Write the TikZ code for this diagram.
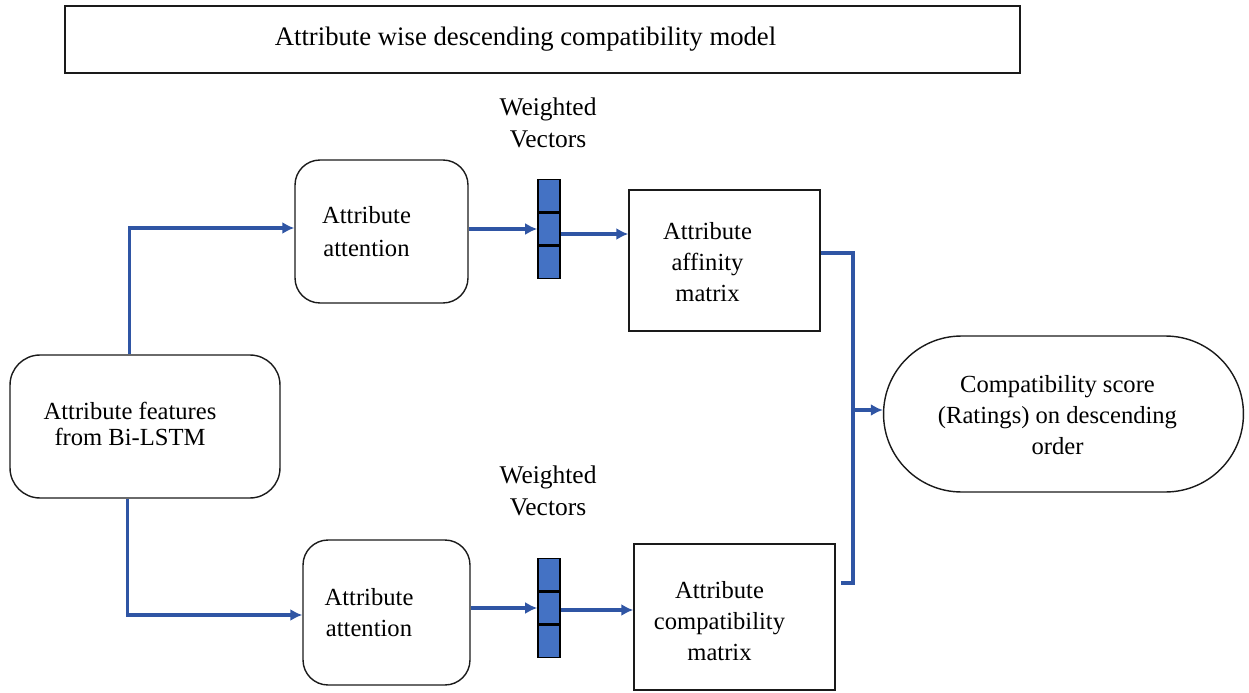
\documentclass[tikz,border=0pt]{standalone}
\usepackage{fontspec}
\setmainfont{Liberation Serif}
\usepackage{xcolor}
\usetikzlibrary{arrows.meta,positioning,calc,shapes.misc}
\definecolor{LinkBlue}{HTML}{2F55A4}
\definecolor{CellBlue}{HTML}{4472C4}
\definecolor{Ink}{HTML}{1A1A1A}
\tikzset{
  plainbox/.style={draw=Ink,line width=0.8pt,align=center,inner sep=2pt,
              font=\fontsize{14}{17.5}\selectfont},
  roundbox/.style={plainbox,rounded corners=0.5cm},
  termbox/.style={plainbox,rounded rectangle,rounded rectangle arc length=180},
  boxtext/.style={align=center,inner sep=2pt,font=\fontsize{14}{17.5}\selectfont},
  cell/.style={draw=black,line width=0.9pt,fill=CellBlue,minimum width=0.44cm,
              minimum height=0.64cm,inner sep=0pt},
  flow/.style={-{Latex[length=2.4mm,width=2.4mm]},line width=1.9pt,draw=LinkBlue},
  link/.style={line width=1.9pt,draw=LinkBlue},
  note/.style={font=\fontsize{14.5}{18.5}\selectfont,align=center}
}

\begin{document}
\begin{tikzpicture}[x=0.02cm,y=-0.02cm]
  \useasboundingbox (0,0) rectangle (1249,693);
  \node[plainbox,minimum width=19.1cm,minimum height=1.34cm] (title) at (542.5,39.5) {};
  \node[boxtext,font=\fontsize{15.2}{18}\selectfont] at ([xshift=-0.34cm]title.center)
    {Attribute wise descending compatibility model};

  \node[roundbox,minimum width=5.4cm,minimum height=2.86cm,rounded corners=0.6cm] (lstm) at (145,426.5) {};
  \node[boxtext,font=\fontsize{14}{14.8}\selectfont] at ([xshift=-0.3cm,yshift=0.05cm]lstm.center)
    {Attribute features\\from Bi-LSTM};
  \node[roundbox,minimum width=3.46cm,minimum height=2.86cm] (att1) at (381.5,231.5) {};
  \node[roundbox,minimum width=3.34cm,minimum height=2.9cm] (att2) at (386.5,612.5) {};
  \node[boxtext,font=\fontsize{14}{19}\selectfont] at ([xshift=-0.3cm]att1.center) {Attribute\\attention};
  \node[boxtext] at ([xshift=-0.35cm]att2.center) {Attribute\\attention};

  % weighted vectors
  \node[cell] (v1b) at (549,229) {};
  \node[cell,above=0pt of v1b] (v1a) {};
  \node[cell,below=0pt of v1b] (v1c) {};
  \node[cell] (v2b) at (549,608) {};
  \node[cell,above=0pt of v2b] (v2a) {};
  \node[cell,below=0pt of v2b] (v2c) {};
  \node[note] (w1) at (548,123) {Weighted\\Vectors};
  \node[note] (w2) at (548,491) {Weighted\\Vectors};

  \node[plainbox,minimum width=3.82cm,minimum height=2.82cm] (mat1) at (724.5,260.5) {};
  \node[plainbox,minimum width=4.02cm,minimum height=2.92cm] (mat2) at (734.5,617) {};
  \node[boxtext] at ([xshift=-0.34cm,yshift=-0.03cm]mat1.center) {Attribute\\affinity\\matrix};
  \node[boxtext] at ([xshift=-0.3cm,yshift=-0.08cm]mat2.center) {Attribute\\compatibility\\matrix};

  \node[termbox,minimum width=7.34cm,minimum height=3.12cm] (score) at (1063.5,414) {};
  \node[boxtext] at ([xshift=-0.12cm,yshift=-0.02cm]score.center)
    {Compatibility score\\(Ratings) on descending\\order};

  \draw[flow] ([xshift=2.4cm]lstm.north west) |- ([yshift=0.07cm]att1.west);
  \draw[flow] ([xshift=2.36cm]lstm.south west) |- ([yshift=-0.05cm]att2.west);
  \draw[flow] (att1.east |- v1b) -- (v1b.west);
  \draw[flow] ([yshift=-0.1cm]v1b.east) -- ([yshift=-0.1cm]v1b.east -| mat1.west);
  \draw[flow] (att2.east |- v2b) -- (v2b.west);
  \draw[flow] ([yshift=-0.04cm]v2b.east) -- ([yshift=-0.04cm]v2b.east -| mat2.west);

  \coordinate (bus) at (853,410);
  \draw[link] ([yshift=0.15cm]mat1.east) -| (bus) |- ([xshift=0.1cm,yshift=0.68cm]mat2.east);
  \draw[flow] (bus) -- (bus -| score.west);
\end{tikzpicture}
\end{document}
